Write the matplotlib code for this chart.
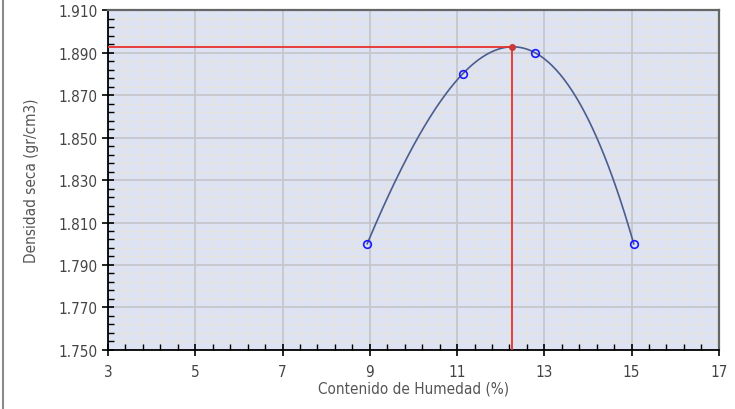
import numpy as np
import matplotlib
matplotlib.use("Agg")
import matplotlib.pyplot as plt
from matplotlib.ticker import AutoMinorLocator, FuncFormatter
from matplotlib.lines import Line2D

# Compaction test points (moisture %, dry density)
humedad = [8.94, 11.13, 12.78, 15.05]
densidad = [1.800, 1.880, 1.890, 1.800]

# Optimum moisture / max dry density
hum_optima = 12.27
dens_max = 1.8927

x_ticks = [3, 5, 7, 9, 11, 13, 15, 17]
y_ticks = [1.750, 1.770, 1.790, 1.810, 1.830, 1.850, 1.870, 1.890, 1.910]

fig = plt.figure(figsize=(7.35, 4.10), dpi=100)
ax = fig.add_axes([0.147, 0.144, 0.831, 0.829])
ax.set_facecolor("#dde3f3")

ax.set_xlim(x_ticks[0], x_ticks[-1])
ax.set_ylim(y_ticks[0], y_ticks[-1])
ax.set_xticks(x_ticks)
ax.set_yticks(y_ticks)
ax.xaxis.set_minor_locator(AutoMinorLocator(5))
ax.yaxis.set_minor_locator(AutoMinorLocator(5))
ax.yaxis.set_major_formatter(FuncFormatter(lambda v, p: f"{v:.3f}"))

# grid: minor first, major on top of it
xmin = ax.get_xticks(minor=True)
ymin = ax.get_yticks(minor=True)
ax.vlines(xmin, y_ticks[0], y_ticks[-1], color="#e6e2de", lw=1.0, zorder=0.2)
ax.hlines(ymin, x_ticks[0], x_ticks[-1], color="#e6e2de", lw=1.0, zorder=0.2)
ax.vlines(x_ticks, y_ticks[0], y_ticks[-1], color="#c4c4c8", lw=1.2, zorder=0.4)
ax.hlines(y_ticks, x_ticks[0], x_ticks[-1], color="#c4c4c8", lw=1.2, zorder=0.4)

# fitted curve through the test points
coef = np.polyfit(humedad, densidad, 3)
xs = np.linspace(min(humedad), max(humedad), 200)
ax.plot(xs, np.polyval(coef, xs), color="#4b5d8e", lw=1.2, zorder=3)

ax.plot(humedad, densidad, "o", mfc="none", mec="#1a1aff", mew=1.2, ms=5.5, zorder=4)

# optimum lines
ax.plot([x_ticks[0], hum_optima], [dens_max, dens_max], color="#e8312f", lw=1.3, zorder=3)
ax.plot([hum_optima, hum_optima], [y_ticks[0], dens_max], color="#e8312f", lw=1.3, zorder=3)
ax.plot([hum_optima], [dens_max], "o", color="#c83a3a", ms=4, zorder=5)

ax.set_xlim(x_ticks[0], x_ticks[-1])
ax.set_ylim(y_ticks[0], y_ticks[-1])

ax.tick_params(which="major", direction="inout", length=8, width=1.2, color="black",
               labelsize=11, labelcolor="#444444")
ax.tick_params(which="minor", direction="in", length=4, width=1.0, color="black")
ax.tick_params(axis="x", pad=6)

for s in ["left", "bottom"]:
    ax.spines[s].set_color("black")
    ax.spines[s].set_linewidth(1.3)
for s in ["top", "right"]:
    ax.spines[s].set_color("#666666")
    ax.spines[s].set_linewidth(1.6)

for lab in ax.get_xticklabels() + ax.get_yticklabels():
    lab.set_fontstretch("condensed")

ax.set_xlabel("Contenido de Humedad (%)", fontsize=11, color="#555555",
              fontstretch="condensed", labelpad=1)
ax.set_ylabel("Densidad seca (gr/cm3)", fontsize=11, color="#555555",
              fontstretch="condensed", labelpad=14)

# frame line on the left edge of the picture
fig.add_artist(Line2D([0.004, 0.004], [0, 1], color="#8a8a8a", lw=1.5,
                      transform=fig.transFigure))

fig.savefig("out.png", dpi=100, facecolor="white")
